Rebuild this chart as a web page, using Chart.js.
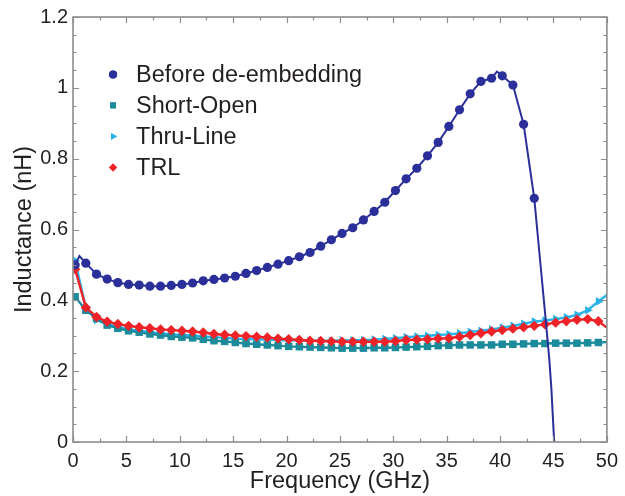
<!DOCTYPE html>
<html>
<head>
<meta charset="utf-8">
<script src="https://cdn.jsdelivr.net/npm/chart.js@4/dist/chart.umd.min.js"></script>
<style>
  html, body { margin: 0; padding: 0; background: #ffffff; }
  #wrap { width: 625px; height: 496px; }
</style>
</head>
<body>
<div id="wrap"><canvas id="chart" width="625" height="496"></canvas></div>
<script>
// Frequency points (GHz) where the de-embedded curves were sampled
const freqLow = [0.2, 1.2, 2.2, 3.2, 4.2, 5.2, 6.2, 7.2, 8.2, 9.2,
  10.2, 11.2, 12.2, 13.2, 14.2, 15.2, 16.2, 17.2, 18.2, 19.2,
  20.2, 21.2, 22.2, 23.2, 24.2, 25.2, 26.2, 27.2, 28.2, 29.2,
  30.2, 31.2, 32.2, 33.2, 34.2, 35.2, 36.2, 37.2, 38.2, 39.2,
  40.2, 41.2, 42.2, 43.2, 44.2, 45.2, 46.2, 47.2, 48.2, 49.2, 50];

// Frequency points (GHz) for the raw measurement
const freqBefore = [0.2, 0.6, 1.2, 2.2, 3.2, 4.2, 5.2, 6.2, 7.2, 8.2, 9.2,
  10.2, 11.2, 12.2, 13.2, 14.2, 15.2, 16.2, 17.2, 18.2, 19.2,
  20.2, 21.2, 22.2, 23.2, 24.2, 25.2, 26.2, 27.2, 28.2, 29.2,
  30.2, 31.2, 32.2, 33.2, 34.2, 35.2, 36.2, 37.2, 38.2, 39.2, 39.7,
  40.2, 41.2, 42.2, 43.2, 43.7, 44.2, 44.6, 44.8, 45.1];

// Inductance (nH)
const beforeDeembedding = [0.50, 0.525, 0.505, 0.474, 0.46, 0.45, 0.445, 0.443, 0.44, 0.44, 0.442,
  0.445, 0.449, 0.455, 0.459, 0.463, 0.468, 0.476, 0.484, 0.493, 0.502,
  0.512, 0.523, 0.535, 0.553, 0.571, 0.589, 0.605, 0.627, 0.651, 0.677,
  0.71, 0.743, 0.773, 0.808, 0.846, 0.891, 0.938, 0.983, 1.018, 1.027, 1.046,
  1.034, 1.008, 0.897, 0.688, 0.528, 0.368, 0.236, 0.152, -0.02];

const shortOpen = [0.41, 0.372, 0.349, 0.33, 0.321, 0.314, 0.31, 0.305, 0.302, 0.298,
  0.296, 0.294, 0.29, 0.286, 0.284, 0.281, 0.278, 0.276, 0.274, 0.272,
  0.27, 0.269, 0.268, 0.267, 0.266, 0.265, 0.265, 0.265, 0.266, 0.266,
  0.267, 0.268, 0.269, 0.27, 0.272, 0.273, 0.274, 0.274, 0.274, 0.274,
  0.276, 0.276, 0.277, 0.278, 0.278, 0.279, 0.279, 0.279, 0.28, 0.281, 0.282];

const thruLine = [0.512, 0.378, 0.345, 0.333, 0.325, 0.318, 0.314, 0.31, 0.307, 0.304,
  0.302, 0.30, 0.298, 0.296, 0.294, 0.292, 0.291, 0.29, 0.289, 0.288,
  0.287, 0.287, 0.286, 0.286, 0.286, 0.287, 0.287, 0.288, 0.289, 0.291,
  0.293, 0.296, 0.298, 0.30, 0.302, 0.304, 0.307, 0.311, 0.314, 0.318,
  0.323, 0.328, 0.334, 0.34, 0.343, 0.347, 0.352, 0.359, 0.372, 0.397, 0.415];

const trl = [0.488, 0.38, 0.353, 0.34, 0.333, 0.328, 0.324, 0.321, 0.318, 0.316,
  0.314, 0.312, 0.309, 0.305, 0.303, 0.301, 0.299, 0.297, 0.295, 0.292,
  0.29, 0.288, 0.286, 0.285, 0.284, 0.283, 0.283, 0.283, 0.283, 0.283,
  0.285, 0.288, 0.289, 0.29, 0.292, 0.293, 0.297, 0.302, 0.307, 0.312,
  0.316, 0.32, 0.324, 0.328, 0.332, 0.337, 0.341, 0.345, 0.347, 0.341, 0.323];

const xTicks = [0, 5, 10, 15, 20, 25, 30, 35, 40, 45, 50];
const yTicks = [0, 0.2, 0.4, 0.6, 0.8, 1, 1.2];

const FONT = '"Liberation Sans", Arial, Helvetica, sans-serif';
const TEXT = '#231f20';
const FRAME = '#8c8c8c';

// markers sit on the x.2 GHz samples; the rest only shape the line
function onGrid(f) {
  const frac = f - Math.floor(f);
  return Math.abs(frac - 0.2) < 1e-6;
}
function pts(freq, vals) {
  return freq.map((f, i) => ({ x: f, y: vals[i] }));
}

const series = [
  { label: 'Before de-embedding', freq: freqBefore, vals: beforeDeembedding,
    color: '#2b2f9a', style: 'circle', r: 4.6, rot: 0, order: 0, maxMark: 43.5, lw: 2 },
  { label: 'Short-Open', freq: freqLow, vals: shortOpen,
    color: '#1b8b9b', style: 'rect', r: 5.3, rot: 0, order: 2, maxMark: 50, lw: 2.4 },
  { label: 'Thru-Line', freq: freqLow, vals: thruLine,
    color: '#27b2ea', style: 'triangle', r: 5, rot: 90, order: 3, maxMark: 50, lw: 2.4 },
  { label: 'TRL', freq: freqLow, vals: trl,
    color: '#ee2227', style: 'rectRot', r: 5.2, rot: 0, order: 1, maxMark: 50, lw: 2.4 }
];

const datasets = series.map(s => ({
  label: s.label,
  data: pts(s.freq, s.vals),
  borderColor: s.color,
  backgroundColor: s.color,
  borderWidth: s.lw,
  pointStyle: s.style,
  pointRotation: s.rot,
  pointBorderWidth: 0,
  pointRadius: ctx => {
    const p = ctx.raw;
    return (p && onGrid(p.x) && p.x <= s.maxMark) ? s.r : 0;
  },
  pointHoverRadius: 0,
  tension: 0,
  order: s.order
}));

// inward ticks on all four sides, plot frame and in-plot legend
const framePlugin = {
  id: 'frame',
  afterDatasetsDraw(chart) {
    const { ctx, chartArea: a, scales } = chart;
    const xs = scales.x, ys = scales.y;
    ctx.save();
    ctx.strokeStyle = FRAME;
    ctx.lineWidth = 1.2;
    ctx.beginPath();
    for (let v = 0; v <= 50.001; v += 2.5) {
      const px = Math.round(xs.getPixelForValue(v)) + 0.5;
      const len = (Math.abs(v / 5 - Math.round(v / 5)) < 1e-6) ? 6 : 3.5;
      ctx.moveTo(px, a.bottom); ctx.lineTo(px, a.bottom - len);
      ctx.moveTo(px, a.top); ctx.lineTo(px, a.top + len);
    }
    for (let v = 0; v <= 1.2001; v += 0.05) {
      const py = Math.round(ys.getPixelForValue(v)) + 0.5;
      const len = (Math.abs(v / 0.2 - Math.round(v / 0.2)) < 1e-6) ? 6 : 3.5;
      ctx.moveTo(a.left, py); ctx.lineTo(a.left + len, py);
      ctx.moveTo(a.right, py); ctx.lineTo(a.right - len, py);
    }
    ctx.stroke();
    ctx.lineWidth = 1.6;
    ctx.strokeRect(a.left, a.top, a.right - a.left, a.bottom - a.top);

    // legend
    const lx = xs.getPixelForValue(3.75);
    const ly0 = ys.getPixelForValue(1.038);
    const step = 31;
    ctx.font = '23.5px ' + FONT;
    ctx.textBaseline = 'middle';
    ctx.textAlign = 'left';
    series.forEach((s, i) => {
      const y = ly0 + i * step;
      ctx.fillStyle = s.color;
      ctx.strokeStyle = s.color;
      Chart.helpers.drawPoint(ctx, {
        pointStyle: s.style, rotation: s.rot,
        radius: s.style === 'rect' ? 4.2 : 4, borderWidth: 0
      }, lx, y);
      ctx.fill();
      ctx.fillStyle = TEXT;
      ctx.fillText(s.label, lx + 23, y + 1);
    });
    ctx.restore();
  }
};

new Chart(document.getElementById('chart'), {
  type: 'line',
  data: { datasets },
  options: {
    responsive: false,
    animation: false,
    layout: { padding: { left: 0, right: 14, top: 17, bottom: 0 } },
    plugins: { legend: { display: false }, tooltip: { enabled: false } },
    scales: {
      x: {
        type: 'linear', min: 0, max: 50,
        afterBuildTicks: sc => { sc.ticks = xTicks.map(v => ({ value: v })); },
        afterFit: sc => { sc.height = 54; },
        grid: { display: false, drawTicks: false },
        border: { display: false },
        ticks: { color: TEXT, font: { family: FONT, size: 20 }, padding: 7, maxRotation: 0 },
        title: { display: true, text: 'Frequency (GHz)', color: TEXT,
                 font: { family: FONT, size: 23.5 }, padding: { top: 0, bottom: 0 } }
      },
      y: {
        type: 'linear', min: 0, max: 1.2,
        afterBuildTicks: sc => { sc.ticks = yTicks.map(v => ({ value: v })); },
        afterFit: sc => { sc.width = 73; },
        grid: { display: false, drawTicks: false },
        border: { display: false },
        ticks: { color: TEXT, font: { family: FONT, size: 20 }, padding: 5,
                 callback: v => String(Math.round(v * 10) / 10) },
        title: { display: true, text: 'Inductance (nH)', color: TEXT,
                 font: { family: FONT, size: 23.5 }, padding: { top: 10, bottom: 0 } }
      }
    }
  },
  plugins: [framePlugin]
});
</script>
</body>
</html>
